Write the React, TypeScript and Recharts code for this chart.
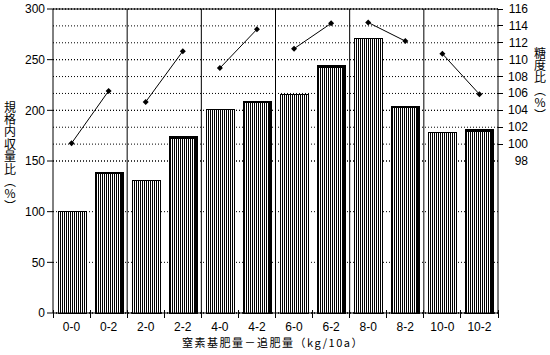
import React from 'react';
import { ComposedChart, Bar, Line, XAxis, YAxis, ReferenceLine, CartesianGrid } from 'recharts';

const categories = ['0-0', '0-2', '2-0', '2-2', '4-0', '4-2', '6-0', '6-2', '8-0', '8-2', '10-0', '10-2'];
const yieldRatio = [100, 139, 131, 174, 201, 209, 216, 244, 271, 204, 178, 181];
const sugarRatio = [100.1, 106.3, 105.0, 111.0, 109.0, 113.6, 111.3, 114.3, 114.4, 112.2, 110.7, 105.9];
const leftTicks = [0, 50, 100, 150, 200, 250, 300];
const rightTicks = [98, 100, 102, 104, 106, 108, 110, 112, 114, 116];
const groupStarts = ['2-0', '4-0', '6-0', '8-0', '10-0'];
const leftTitle = '規格内収量比（%）';
const rightTitle = '糖度比（%）';
const xTitle = '窒素基肥量－追肥量（kg/10a）';

const data = categories.map((c, i) => {
  const g = Math.floor(i / 2);
  return {
    cat: c,
    yield: yieldRatio[i],
    sugarA: g % 2 === 0 ? sugarRatio[i] : null,
    sugarB: g % 2 === 1 ? sugarRatio[i] : null,
  };
});

const FONT = '"Liberation Sans", Arial, sans-serif';
const CJK = '"Noto Sans CJK JP", sans-serif';

const HatchBar = (props: any) => {
  const { x, y, width, height, index } = props;
  const heavy = index % 2 === 1;
  return (
    <g shapeRendering="crispEdges">
      <rect x={x} y={y} width={width} height={height} fill="url(#vhatch)" stroke="#000" strokeWidth={1} />
      {heavy && <rect x={x + width - 3} y={y} width={3} height={height} fill="#000" />}
      {heavy && <rect x={x} y={y} width={width} height={2} fill="#000" />}
    </g>
  );
};

const Diamond = (props: any) => {
  const { cx, cy, value, index } = props;
  if (value == null || cy == null || isNaN(cy)) return <g key={`e${index}`} />;
  return (
    <path
      key={`d${index}`}
      d={`M${cx},${cy - 3}L${cx + 3},${cy}L${cx},${cy + 3}L${cx - 3},${cy}Z`}
      fill="#000"
    />
  );
};

const XTick = (props: any) => {
  const { x, y, payload, index } = props;
  const half = payload.offset ?? 0;
  return (
    <g>
      <line x1={x - half} x2={x - half} y1={y - 3} y2={y + 5} stroke="#000" shapeRendering="crispEdges" />
      {index === categories.length - 1 && (
        <line x1={x + half} x2={x + half} y1={y - 3} y2={y + 5} stroke="#000" shapeRendering="crispEdges" />
      )}
      <text x={x} y={y + 18} textAnchor="middle" fontFamily={FONT} fontSize={12} fill="#000">
        {payload.value}
      </text>
    </g>
  );
};

const RightTick = (props: any) => {
  const { x, y, payload } = props;
  return (
    <g>
      {payload.value !== 98 && (
        <line x1={x} x2={x + 5} y1={y} y2={y} stroke="#000" shapeRendering="crispEdges" />
      )}
      <text x={x + 30} y={y + 4} textAnchor="end" fontFamily={FONT} fontSize={12} fill="#000">
        {payload.value}
      </text>
    </g>
  );
};

const VerticalTitle = ({ text, cx, top }: { text: string; cx: number; top: number }) => (
  <text
    x={cx}
    y={top}
    fontFamily={CJK}
    fontSize={12}
    letterSpacing={0.4}
    fill="#000"
    style={{ writingMode: 'vertical-rl', textOrientation: 'upright' } as any}
  >
    {text}
  </text>
);

const LeftTitle = () => <VerticalTitle text={leftTitle} cx={10} top={101} />;
const RightTitle = () => <VerticalTitle text={rightTitle} cx={540} top={47} />;

const XTitle = () => (
  <text x={273} y={347} textAnchor="middle" fontFamily={CJK} fontSize={11} letterSpacing={1.5} fill="#000">
    {xTitle}
  </text>
);

export default function App() {
  return (
    <div style={{ position: 'absolute', left: 0, top: 0, width: 550, height: 355, background: '#fff' }}>
      <ComposedChart
        width={550}
        height={355}
        data={data}
        margin={{ top: 9, right: 0, bottom: 12, left: 0 }}
        barSize={28}
      >
        <defs>
          <pattern id="vhatch" width="2" height="4" patternUnits="userSpaceOnUse">
            <rect width="2" height="4" fill="#fff" />
            <rect width="1" height="4" fill="#000" />
          </pattern>
        </defs>
        <CartesianGrid yAxisId="left" vertical={false} stroke="#000" strokeDasharray="1 2" />
        <CartesianGrid yAxisId="right" vertical={false} stroke="#000" strokeDasharray="1 2" />
        <XAxis
          dataKey="cat"
          height={30}
          tickSize={0}
          tickMargin={0}
          tickLine={false}
          axisLine={{ stroke: '#000' }}
          tick={<XTick />}
          interval={0}
          label={{ content: () => <XTitle /> }}
        />
        <YAxis
          yAxisId="left"
          orientation="left"
          width={53}
          domain={[0, 300]}
          ticks={leftTicks}
          interval={0}
          tickSize={6}
          tickMargin={2}
          axisLine={{ stroke: '#000' }}
          tickLine={{ stroke: '#000' }}
          tick={{ fill: '#000', fontSize: 12, fontFamily: FONT }}
          label={{ content: () => <LeftTitle /> }}
        />
        <YAxis
          yAxisId="right"
          orientation="right"
          width={52}
          domain={[80, 116]}
          ticks={rightTicks}
          interval={0}
          tickSize={0}
          tickMargin={0}
          tickLine={false}
          axisLine={{ stroke: '#000' }}
          tick={<RightTick />}
          label={{ content: () => <RightTitle /> }}
        />
        {groupStarts.map((c) => (
          <ReferenceLine key={c} yAxisId="left" x={c} position="start" stroke="#000" strokeWidth={1} />
        ))}
        <ReferenceLine yAxisId="left" y={300} stroke="#000" strokeWidth={1} />
        <Bar yAxisId="left" dataKey="yield" shape={<HatchBar />} isAnimationActive={false} />
        <Line
          yAxisId="right"
          dataKey="sugarA"
          stroke="#000"
          strokeWidth={1}
          dot={Diamond}
          activeDot={false}
          connectNulls={false}
          isAnimationActive={false}
        />
        <Line
          yAxisId="right"
          dataKey="sugarB"
          stroke="#000"
          strokeWidth={1}
          dot={Diamond}
          activeDot={false}
          connectNulls={false}
          isAnimationActive={false}
        />
      </ComposedChart>
    </div>
  );
}
